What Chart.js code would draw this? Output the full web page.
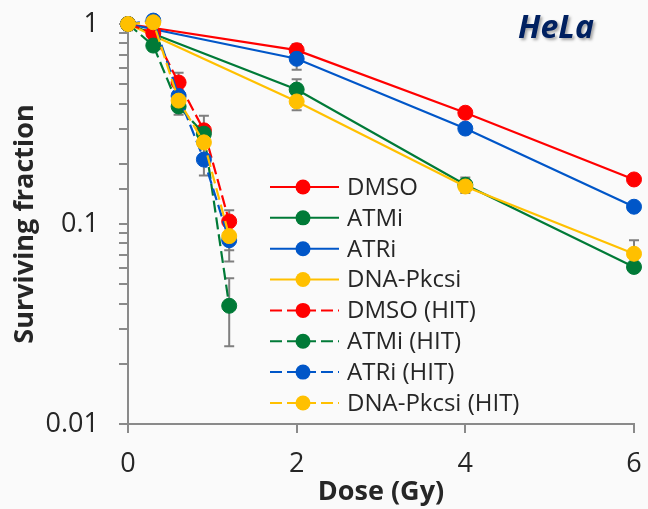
<!DOCTYPE html>
<html>
<head>
<meta charset="utf-8">
<script src="https://cdn.jsdelivr.net/npm/chart.js@4.4.1/dist/chart.umd.min.js"></script>
<style>
  html, body { margin: 0; padding: 0; background: #fafafa; }
  #wrap { width: 648px; height: 509px; }
</style>
</head>
<body>
<div id="wrap"><canvas id="survChart" width="648" height="509"></canvas></div>
<script>
// Dose points (Gy)
const doseStd = [0, 2, 4, 6];
const doseHit = [0, 0.3, 0.6, 0.9, 1.2];

// Surviving fraction, standard irradiation
const dmso = [1, 0.74, 0.36, 0.167];
const atmi = [1, 0.47, 0.157, 0.061];
const atri = [1, 0.67, 0.30, 0.122];
const dnapk = [1, 0.41, 0.154, 0.071];

// Surviving fraction, HIT
const dmsoHit = [1, 0.90, 0.51, 0.294, 0.103];
const atmiHit = [1, 0.78, 0.387, 0.283, 0.039];
const atriHit = [1, 1.04, 0.437, 0.21, 0.083];
const dnapkHit = [1, 1.02, 0.414, 0.256, 0.087];

// error bars (+/-), null = none shown
const dmsoErr = [null, 0.055, null, null];
const atmiErr = [null, 0.06, 0.014, null];
const atriErr = [null, 0.08, null, null];
const dnapkErr = [null, 0.04, 0.005, 0.012];
const dmsoHitErr = [0.07, null, 0.06, 0.054, 0.014];
const atmiHitErr = [null, null, 0.035, null, 0.0145];
const atriHitErr = [null, null, null, 0.035, 0.018];
const dnapkHitErr = [null, null, null, null, 0.013];

const seriesNames = ['DMSO', 'ATMi', 'ATRi', 'DNA-Pkcsi',
  'DMSO (HIT)', 'ATMi (HIT)', 'ATRi (HIT)', 'DNA-Pkcsi (HIT)'];

const RED = '#FF0000', GREEN = '#007A37', BLUE = '#0056C8', YELLOW = '#FFC000';
const colors = [RED, GREEN, BLUE, YELLOW, RED, GREEN, BLUE, YELLOW];
const DASH = [12, 5];

function pts(xs, ys) {
    return xs.map((x, i) => ({x: x, y: ys[i]}));
}

const allX = [doseStd, doseStd, doseStd, doseStd, doseHit, doseHit, doseHit, doseHit];
const allY = [dmso, atmi, atri, dnapk, dmsoHit, atmiHit, atriHit, dnapkHit];
const allErr = [dmsoErr, atmiErr, atriErr, dnapkErr, dmsoHitErr, atmiHitErr, atriHitErr, dnapkHitErr];

const datasets = seriesNames.map((name, i) => ({
    label: name,
    data: pts(allX[i], allY[i]),
    errors: allErr[i],
    borderColor: colors[i],
    backgroundColor: colors[i],
    pointBackgroundColor: colors[i],
    pointBorderColor: colors[i],
    pointRadius: 7.5,
    pointBorderWidth: 1,
    borderWidth: 2.2,
    borderDash: i >= 4 ? DASH : [],
    tension: 0,
    clip: false,
    order: 8 - i   // later series on top, like the original
}));

// error bars drawn under the series
const errorBars = {
    id: 'errorBars',
    beforeDatasetsDraw(chart) {
        const ctx = chart.ctx;
        const xs = chart.scales.x, ys = chart.scales.y;
        ctx.save();
        ctx.strokeStyle = '#7f7f7f';
        ctx.lineWidth = 2;
        chart.data.datasets.forEach(ds => {
            ds.data.forEach((p, j) => {
                const e = ds.errors[j];
                if (e == null) return;
                const x = xs.getPixelForValue(p.x);
                const yTop = ys.getPixelForValue(p.y + e);
                const yBot = ys.getPixelForValue(Math.max(p.y - e, 1e-4));
                ctx.beginPath();
                ctx.moveTo(x, yTop); ctx.lineTo(x, yBot);
                ctx.moveTo(x - 5, yTop); ctx.lineTo(x + 5, yTop);
                ctx.moveTo(x - 5, yBot); ctx.lineTo(x + 5, yBot);
                ctx.stroke();
            });
        });
        ctx.restore();
    }
};

// legend box inside the plot + HeLa label
const overlay = {
    id: 'overlay',
    afterDraw(chart) {
        const ctx = chart.ctx;
        ctx.save();
        chart.data.datasets.forEach((ds, i) => {
            const y = 187 + i * 30.85;
            ctx.strokeStyle = ds.borderColor;
            ctx.lineWidth = 2;
            ctx.setLineDash(ds.borderDash);
            ctx.beginPath();
            ctx.moveTo(270, y); ctx.lineTo(339, y);
            ctx.stroke();
            ctx.setLineDash([]);
            ctx.fillStyle = ds.borderColor;
            ctx.beginPath();
            ctx.arc(303, y, 7.5, 0, Math.PI * 2);
            ctx.fill();
            ctx.fillStyle = '#262626';
            ctx.font = '24px "Open Sans"';
            ctx.textBaseline = 'middle';
            ctx.textAlign = 'left';
            ctx.fillText(ds.label, 347, y + 1);
        });

        ctx.font = 'italic bold 32px "Open Sans"';
        ctx.fillStyle = '#002060';
        ctx.textAlign = 'center';
        ctx.textBaseline = 'alphabetic';
        ctx.shadowColor = 'rgba(0,0,0,0.35)';
        ctx.shadowBlur = 3;
        ctx.shadowOffsetX = 2;
        ctx.shadowOffsetY = 2;
        ctx.fillText('HeLa', 556, 38);
        ctx.restore();
    }
};

// fixed box sizes, no label overflow padding -> plot area is 128..634 x 24..424
function noOverflow(s) {
    s.paddingTop = 0;
    s.paddingBottom = 0;
    s.paddingLeft = 0;
    s.paddingRight = 0;
}

const axisColor = '#8a8a8a';
const tickFont = {family: '"Open Sans"', size: 27};
const titleFont = {family: '"Open Sans"', size: 27, weight: 'bold'};

new Chart(document.getElementById('survChart'), {
    type: 'line',
    data: {datasets: datasets},
    plugins: [errorBars, overlay],
    options: {
        responsive: false,
        devicePixelRatio: 1,
        animation: false,
        layout: {padding: {top: 24, right: 14, left: 0, bottom: 0}},
        plugins: {
            legend: {display: false},
            tooltip: {enabled: false}
        },
        scales: {
            x: {
                type: 'linear',
                min: 0,
                max: 6,
                afterFit: s => { s.height = 85; noOverflow(s); },
                ticks: {stepSize: 2, font: tickFont, color: '#262626', padding: 15,
                        maxRotation: 0},
                grid: {drawOnChartArea: false, drawTicks: true, tickLength: 9,
                       color: axisColor, lineWidth: 2},
                border: {display: true, color: axisColor, width: 2},
                title: {display: true, text: 'Dose (Gy)', font: titleFont,
                        color: '#262626', padding: {top: 0, bottom: 0}}
            },
            y: {
                type: 'logarithmic',
                min: 0.01,
                max: 1,
                afterFit: s => { s.width = 128; noOverflow(s); },
                ticks: {
                    autoSkip: false,
                    font: tickFont,
                    color: '#262626',
                    padding: 20,
                    callback: function (value) {
                        const l = Math.log10(value);
                        return Math.abs(l - Math.round(l)) < 1e-6 ? String(value) : '';
                    }
                },
                grid: {drawOnChartArea: false, drawTicks: true, tickLength: 9,
                       color: axisColor, lineWidth: 2},
                border: {display: true, color: axisColor, width: 2},
                title: {display: true, text: 'Surviving fraction', font: titleFont,
                        color: '#262626', padding: {top: 9, bottom: 0}}
            }
        }
    }
});
</script>
</body>
</html>
